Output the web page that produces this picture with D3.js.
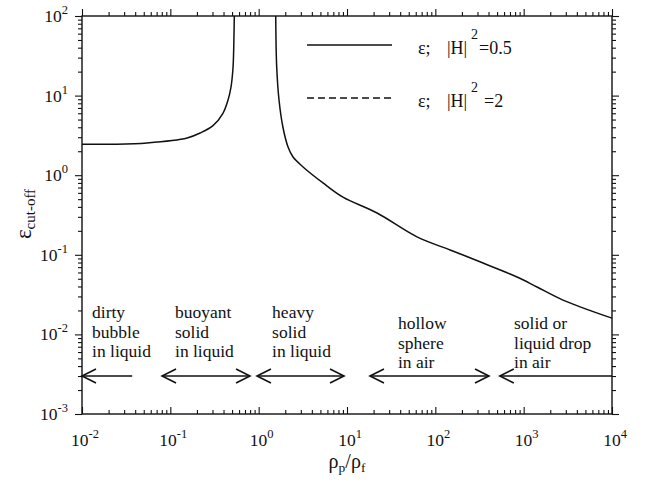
<!DOCTYPE html>
<html>
<head>
<meta charset="utf-8">
<script src="https://cdn.jsdelivr.net/npm/d3@7"></script>
<style>
  body { margin: 0; background: #fff; }
  svg { display: block; }
  text { font-family: "Liberation Serif", "Times New Roman", serif; fill: #111; }
</style>
</head>
<body>
<svg id="chart" width="652" height="483"></svg>
<script>
// Cut-off strain vs particle/fluid density ratio (|H|^2 = 0.5)
// Light-particle branch (bubbles, buoyant solids)
const ratioLight = [0.01, 0.0224, 0.0545, 0.155, 0.217, 0.304, 0.394, 0.45, 0.486, 0.513, 0.526, 0.53];
const epsLight   = [2.45, 2.45, 2.54, 2.93, 3.39, 4.2, 6.0, 8.8, 12.8, 22.9, 61, 100];
// Heavy-particle branch (solids in liquid, spheres and drops in air)
const ratioHeavy = [1.56, 1.6, 1.70, 1.88, 2.15, 2.45, 3.18, 5.35, 9.0, 21.9, 62, 147, 347, 841, 1416, 2787, 10000];
const epsHeavy   = [100, 22.9, 8.8, 4.03, 2.26, 1.69, 1.27, 0.80, 0.53, 0.335, 0.168, 0.115, 0.0788, 0.0526, 0.0394, 0.027, 0.016];

// Decade exponents for tick labels
const xExponents = [-2, -1, 0, 1, 2, 3, 4];
const yExponents = [-3, -2, -1, 0, 1, 2];

// Regime labels and their arrow spans (density ratio); heads: "l", "r" or "lr"
const regimeLines = [
  ["dirty", "bubble", "in liquid"],
  ["buoyant", "solid", "in liquid"],
  ["heavy", "solid", "in liquid"],
  ["hollow", "sphere", "in air"],
  ["solid or", "liquid drop", "in air"]
];
const regimeFrom  = [0.01, 0.0806, 0.957, 18.2, 537];
const regimeTo    = [0.037, 0.798, 9.25, 405, 10000];
const regimeHeads = ["l", "lr", "lr", "lr", "l"];
const regimeLabelAt = [0.013, 0.113, 1.42, 37.8, 778];
const arrowLevel = 0.003;

const legendLabels = ["0.5", "2"];

const svg = d3.select("#chart");
const M = { left: 82, right: 612, top: 16, bottom: 414 };

const x = d3.scaleLog().domain([1e-2, 1e4]).range([M.left, M.right]);
const y = d3.scaleLog().domain([1e-3, 1e2]).range([M.bottom, M.top]);

const majorX = xExponents.map(e => Math.pow(10, e));
const majorY = yExponents.map(e => Math.pow(10, e));
const minorX = [], minorY = [];
xExponents.slice(0, -1).forEach(e => { for (let k = 2; k <= 9; k++) minorX.push(k * Math.pow(10, e)); });
yExponents.slice(0, -1).forEach(e => { for (let k = 2; k <= 9; k++) minorY.push(k * Math.pow(10, e)); });

function tickAxis(axisFn, scale, values, size, transform) {
  const g = svg.append("g").attr("transform", transform)
    .call(axisFn(scale).tickValues(values).tickSize(size).tickFormat(""));
  g.select(".domain").remove();
  g.selectAll(".tick line").attr("stroke", "#111").attr("stroke-width", 1.1);
  return g;
}
// bottom ticks point into the plot; the other three sides point outward
tickAxis(d3.axisBottom, x, majorX, -7, `translate(0,${M.bottom})`);
tickAxis(d3.axisBottom, x, minorX, -4, `translate(0,${M.bottom})`);
tickAxis(d3.axisTop, x, majorX, 7, `translate(0,${M.top})`);
tickAxis(d3.axisTop, x, minorX, 4, `translate(0,${M.top})`);
tickAxis(d3.axisLeft, y, majorY, 7, `translate(${M.left},0)`);
tickAxis(d3.axisLeft, y, minorY, 4, `translate(${M.left},0)`);
tickAxis(d3.axisRight, y, majorY, 7, `translate(${M.right},0)`);
tickAxis(d3.axisRight, y, minorY, 4, `translate(${M.right},0)`);

// frame
svg.append("rect")
  .attr("x", M.left).attr("y", M.top)
  .attr("width", M.right - M.left).attr("height", M.bottom - M.top)
  .attr("fill", "none").attr("stroke", "#111").attr("stroke-width", 1.4);

// power-of-ten tick labels
function powerLabel(sel, exp) {
  sel.append("tspan").text("10");
  sel.append("tspan").attr("font-size", 12.5).attr("dy", -8).text(exp);
}
xExponents.forEach(e => {
  svg.append("text").attr("x", x(Math.pow(10, e)) + 3).attr("y", 446)
    .attr("text-anchor", "middle").attr("font-size", 17.5)
    .call(powerLabel, e);
});
yExponents.forEach(e => {
  svg.append("text").attr("x", 68).attr("y", y(Math.pow(10, e)) + 6)
    .attr("text-anchor", "end").attr("font-size", 17.5)
    .call(powerLabel, e);
});

// axis titles
const yt = svg.append("text")
  .attr("transform", `translate(31,214) rotate(-90)`)
  .attr("text-anchor", "middle").attr("font-size", 23);
yt.append("tspan").text("ε");
yt.append("tspan").attr("font-size", 15).attr("dy", 4).text("cut-off");

const xt = svg.append("text").attr("x", 347).attr("y", 468)
  .attr("text-anchor", "middle").attr("font-size", 20);
xt.append("tspan").text("ρ");
xt.append("tspan").attr("font-size", 13.5).attr("dy", 4).text("p");
xt.append("tspan").attr("dy", -4).text("/ρ");
xt.append("tspan").attr("font-size", 13.5).attr("dy", 4).text("f");

// curves
const lineX = d3.line().x(d => x(d[0])).y(d => y(d[1])).curve(d3.curveCatmullRom.alpha(0.5));
svg.append("path")
  .datum(d3.zip(ratioLight, epsLight))
  .attr("d", lineX).attr("fill", "none").attr("stroke", "#111").attr("stroke-width", 1.5);
svg.append("path")
  .datum(d3.zip(ratioHeavy, epsHeavy))
  .attr("d", lineX).attr("fill", "none").attr("stroke", "#111").attr("stroke-width", 1.5);

// legend
const legend = svg.append("g");
[45, 98].forEach((ly, i) => {
  legend.append("line").attr("x1", 307).attr("x2", 392).attr("y1", ly).attr("y2", ly)
    .attr("stroke", "#111").attr("stroke-width", 1.5)
    .attr("stroke-dasharray", i === 1 ? "7,4" : null);
  const base = ly + 9;
  legend.append("text").attr("x", 418).attr("y", base).attr("font-size", 18).text("ε;");
  legend.append("text").attr("x", 447).attr("y", base).attr("font-size", 18).text("|H|");
  legend.append("text").attr("x", 471).attr("y", base - 15).attr("font-size", 14).text("2");
  legend.append("text").attr("x", i === 0 ? 479 : 484).attr("y", base).attr("font-size", 18)
    .text("=" + legendLabels[i]);
});

// regime labels and arrows
const ay = y(arrowLevel);
function head(g, px, dir) {
  g.append("path")
    .attr("d", `M${px + dir * 14},${ay - 7} L${px},${ay} L${px + dir * 14},${ay + 7}`)
    .attr("fill", "none").attr("stroke", "#111").attr("stroke-width", 1.6);
}
regimeLines.forEach((lines, i) => {
  const base = i < 3 ? 318 : 329;
  const t = svg.append("text").attr("font-size", 17.5);
  lines.forEach((s, j) => {
    t.append("tspan").attr("x", x(regimeLabelAt[i])).attr("y", base + j * 19.5).text(s);
  });
  const g = svg.append("g");
  const x0 = x(regimeFrom[i]), x1 = x(regimeTo[i]);
  g.append("line").attr("x1", x0).attr("x2", x1).attr("y1", ay).attr("y2", ay)
    .attr("stroke", "#111").attr("stroke-width", 1.5);
  if (regimeHeads[i].includes("l")) head(g, x0, 1);
  if (regimeHeads[i].includes("r")) head(g, x1, -1);
});
</script>
</body>
</html>
